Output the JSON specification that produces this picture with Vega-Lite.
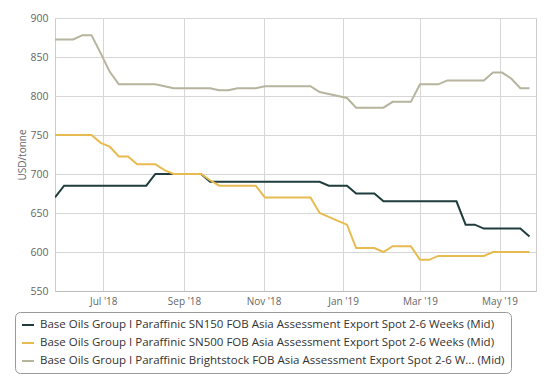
{
  "$schema": "https://vega.github.io/schema/vega-lite/v6.json",
  "width": 481,
  "height": 273,
  "autosize": "none",
  "padding": {"left": 55, "top": 18, "right": 13, "bottom": 87},
  "background": "#ffffff",
  "config": {
    "view": {"stroke": "#cccccc", "strokeWidth": 1},
    "font": "Open Sans",
    "axis": {"labelFont": "Open Sans", "titleFont": "Open Sans"}
  },
  "data": {
    "values": [
      {"date": "2018-05-25", "SN150": 670, "SN500": 750, "Brightstock": 872.5},
      {"date": "2018-06-01", "SN150": 685, "SN500": 750, "Brightstock": 872.5},
      {"date": "2018-06-08", "SN150": 685, "SN500": 750, "Brightstock": 872.5},
      {"date": "2018-06-15", "SN150": 685, "SN500": 750, "Brightstock": 878},
      {"date": "2018-06-22", "SN150": 685, "SN500": 750, "Brightstock": 878},
      {"date": "2018-06-29", "SN150": 685, "SN500": 740, "Brightstock": 855},
      {"date": "2018-07-06", "SN150": 685, "SN500": 735, "Brightstock": 831},
      {"date": "2018-07-13", "SN150": 685, "SN500": 722.5, "Brightstock": 815},
      {"date": "2018-07-20", "SN150": 685, "SN500": 722.5, "Brightstock": 815},
      {"date": "2018-07-27", "SN150": 685, "SN500": 712.5, "Brightstock": 815},
      {"date": "2018-08-03", "SN150": 685, "SN500": 712.5, "Brightstock": 815},
      {"date": "2018-08-10", "SN150": 700, "SN500": 712.5, "Brightstock": 815},
      {"date": "2018-08-17", "SN150": 700, "SN500": 705, "Brightstock": 812.5},
      {"date": "2018-08-24", "SN150": 700, "SN500": 700, "Brightstock": 810},
      {"date": "2018-08-31", "SN150": 700, "SN500": 700, "Brightstock": 810},
      {"date": "2018-09-07", "SN150": 700, "SN500": 700, "Brightstock": 810},
      {"date": "2018-09-14", "SN150": 700, "SN500": 700, "Brightstock": 810},
      {"date": "2018-09-21", "SN150": 690, "SN500": 692, "Brightstock": 810},
      {"date": "2018-09-28", "SN150": 690, "SN500": 685, "Brightstock": 807.5},
      {"date": "2018-10-05", "SN150": 690, "SN500": 685, "Brightstock": 807.5},
      {"date": "2018-10-12", "SN150": 690, "SN500": 685, "Brightstock": 810},
      {"date": "2018-10-19", "SN150": 690, "SN500": 685, "Brightstock": 810},
      {"date": "2018-10-26", "SN150": 690, "SN500": 685, "Brightstock": 810},
      {"date": "2018-11-02", "SN150": 690, "SN500": 670, "Brightstock": 812.5},
      {"date": "2018-11-09", "SN150": 690, "SN500": 670, "Brightstock": 812.5},
      {"date": "2018-11-16", "SN150": 690, "SN500": 670, "Brightstock": 812.5},
      {"date": "2018-11-23", "SN150": 690, "SN500": 670, "Brightstock": 812.5},
      {"date": "2018-11-30", "SN150": 690, "SN500": 670, "Brightstock": 812.5},
      {"date": "2018-12-07", "SN150": 690, "SN500": 670, "Brightstock": 812.5},
      {"date": "2018-12-14", "SN150": 690, "SN500": 650, "Brightstock": 805},
      {"date": "2018-12-21", "SN150": 685, "SN500": 645, "Brightstock": 802.5},
      {"date": "2018-12-28", "SN150": 685, "SN500": 640, "Brightstock": 800},
      {"date": "2019-01-04", "SN150": 685, "SN500": 635, "Brightstock": 797.5},
      {"date": "2019-01-11", "SN150": 675, "SN500": 605, "Brightstock": 785},
      {"date": "2019-01-18", "SN150": 675, "SN500": 605, "Brightstock": 785},
      {"date": "2019-01-25", "SN150": 675, "SN500": 605, "Brightstock": 785},
      {"date": "2019-02-01", "SN150": 665, "SN500": 600, "Brightstock": 785},
      {"date": "2019-02-08", "SN150": 665, "SN500": 607.5, "Brightstock": 792.5},
      {"date": "2019-02-15", "SN150": 665, "SN500": 607.5, "Brightstock": 792.5},
      {"date": "2019-02-22", "SN150": 665, "SN500": 607.5, "Brightstock": 792.5},
      {"date": "2019-03-01", "SN150": 665, "SN500": 590, "Brightstock": 815},
      {"date": "2019-03-08", "SN150": 665, "SN500": 590, "Brightstock": 815},
      {"date": "2019-03-15", "SN150": 665, "SN500": 595, "Brightstock": 815},
      {"date": "2019-03-22", "SN150": 665, "SN500": 595, "Brightstock": 820},
      {"date": "2019-03-29", "SN150": 665, "SN500": 595, "Brightstock": 820},
      {"date": "2019-04-05", "SN150": 635, "SN500": 595, "Brightstock": 820},
      {"date": "2019-04-12", "SN150": 635, "SN500": 595, "Brightstock": 820},
      {"date": "2019-04-19", "SN150": 630, "SN500": 595, "Brightstock": 820},
      {"date": "2019-04-26", "SN150": 630, "SN500": 600, "Brightstock": 830},
      {"date": "2019-05-03", "SN150": 630, "SN500": 600, "Brightstock": 830},
      {"date": "2019-05-10", "SN150": 630, "SN500": 600, "Brightstock": 822.5},
      {"date": "2019-05-17", "SN150": 630, "SN500": 600, "Brightstock": 810},
      {"date": "2019-05-24", "SN150": 620, "SN500": 600, "Brightstock": 810}
    ]
  },
  "transform": [
    {"fold": ["SN150", "SN500", "Brightstock"], "as": ["series", "price"]}
  ],
  "mark": {"type": "line", "strokeWidth": 2, "clip": true},
  "encoding": {
    "x": {
      "field": "date",
      "type": "temporal",
      "scale": {
        "type": "utc",
        "domain": [
          {"year": 2018, "month": 5, "date": 25, "utc": true},
          {"year": 2019, "month": 5, "date": 29, "utc": true}
        ]
      },
      "axis": {
        "title": null,
        "labelExpr": "utcFormat(datum.value, \"%b '%y\")",
        "values": [
          {"year": 2018, "month": 7, "date": 1, "utc": true},
          {"year": 2018, "month": 9, "date": 1, "utc": true},
          {"year": 2018, "month": 11, "date": 1, "utc": true},
          {"year": 2019, "month": 1, "date": 1, "utc": true},
          {"year": 2019, "month": 3, "date": 1, "utc": true},
          {"year": 2019, "month": 5, "date": 1, "utc": true}
        ],
        "grid": true,
        "gridColor": "#d6d6d6",
        "domainColor": "#bbbbbb",
        "ticks": false,
        "labelColor": "#666666",
        "labelFontSize": 10,
        "labelPadding": 5,
        "labelFlush": false
      }
    },
    "y": {
      "field": "price",
      "type": "quantitative",
      "scale": {"domain": [550, 900], "nice": false, "zero": false},
      "axis": {
        "title": "USD/tonne",
        "titleColor": "#666666",
        "titleFontSize": 10,
        "titleFontWeight": "normal",
        "titlePadding": 2,
        "values": [550, 600, 650, 700, 750, 800, 850, 900],
        "grid": true,
        "gridColor": "#d6d6d6",
        "domain": false,
        "ticks": false,
        "labelColor": "#666666",
        "labelFontSize": 10.5,
        "labelPadding": 7
      }
    },
    "color": {
      "field": "series",
      "type": "nominal",
      "sort": ["SN150", "SN500", "Brightstock"],
      "scale": {
        "domain": ["SN150", "SN500", "Brightstock"],
        "range": ["#1f3d3d", "#e8bb50", "#b6b49c"]
      },
      "legend": {
        "title": null,
        "orient": "none",
        "legendX": -40,
        "legendY": 294,
        "direction": "vertical",
        "strokeColor": "#999999",
        "fillColor": "#ffffff",
        "cornerRadius": 5,
        "padding": 6,
        "rowPadding": 5,
        "symbolType": "stroke",
        "symbolStrokeWidth": 2,
        "symbolSize": 144,
        "labelFont": "Open Sans",
        "labelFontSize": 11.5,
        "labelColor": "#333333",
        "labelLimit": 700,
        "labelOffset": 5,
        "labelExpr": "datum.label == 'SN150' ? 'Base Oils Group I Paraffinic SN150 FOB Asia Assessment Export Spot 2-6 Weeks (Mid)' : datum.label == 'SN500' ? 'Base Oils Group I Paraffinic SN500 FOB Asia Assessment Export Spot 2-6 Weeks (Mid)' : 'Base Oils Group I Paraffinic Brightstock FOB Asia Assessment Export Spot 2-6 W... (Mid)'"
      }
    }
  }
}
